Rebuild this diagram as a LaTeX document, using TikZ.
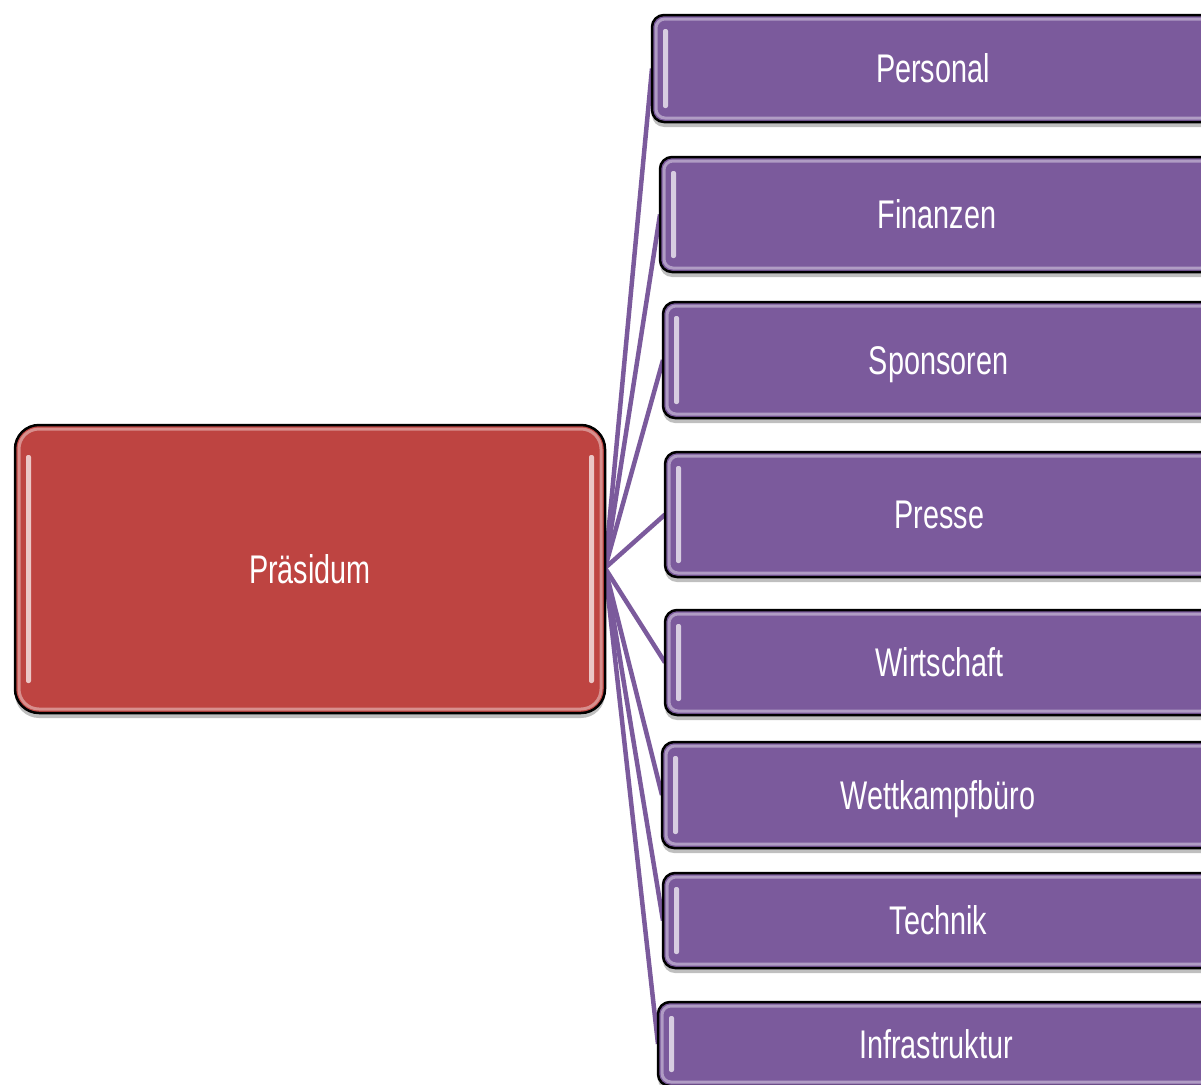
\documentclass[tikz,border=0pt]{standalone}
\usepackage{fontspec}
\setmainfont{Liberation Sans}
\usetikzlibrary{shadows,calc}
\definecolor{boxpurple}{HTML}{7B5A9C}
\definecolor{boxred}{HTML}{BE4441}
\newcommand\narrowtxt[1]{\scalebox{0.72}[1]{#1}}
\begin{document}
\begin{tikzpicture}[x=1pt,y=-1pt,
  basebox/.style={draw=black, line width=2.5pt, inner sep=0pt, outer sep=0pt,
    text=white, font=\fontsize{40}{48}\selectfont, text height=28.6pt, text depth=0pt,
    drop shadow={shadow xshift=0pt, shadow yshift=-5pt, opacity=0.45, fill=black!55}},
  unit/.style={basebox, fill=boxpurple, rounded corners=12pt},
  head/.style={basebox, fill=boxred, rounded corners=24pt},
  conn/.style={draw=boxpurple, line width=4.5pt},
  rimp/.style={draw=boxpurple!60!white, line width=3pt, rounded corners=9pt},
  rimr/.style={draw=boxred!60!white, line width=3pt, rounded corners=20pt},
  stripe/.style={fill=white, opacity=0.7, rounded corners=2pt}]
\useasboundingbox (0,0) rectangle (1201,1084);
\clip (0,0) rectangle (1201,1084);
\fill[white] (0,0) rectangle (1201,1084);
\coordinate (hub) at (605,568);
% connectors (drawn under the boxes, ending at each box's left side)
\foreach \cy/\lx in {68.5/652, 214.5/660, 360/663, 514.5/665, 662.5/665, 795/662, 920.5/663, 1044/658}{
  \draw[conn] (hub) -- (\lx,\cy);
}
% head box
\node[head, minimum width=590pt, minimum height=288pt] (pres) at (310,569) {\narrowtxt{Präsidum}};
\draw[rimr] ($(pres.north west)+(4,4)$) rectangle ($(pres.south east)+(-4,-4)$);
\fill[stripe] ($(pres.north west)+(11,30)$) rectangle ($(pres.south west)+(16,-30)$);
\fill[stripe] ($(pres.north east)+(-16,30)$) rectangle ($(pres.south east)+(-11,-30)$);
% unit boxes
\node[unit, minimum width=562pt, minimum height=107pt] (p1) at (933,68.5) {\narrowtxt{Personal}};
\node[unit, minimum width=554pt, minimum height=115pt] (p2) at (937,214.5) {\narrowtxt{Finanzen}};
\node[unit, minimum width=551pt, minimum height=116pt] (p3) at (938.5,360) {\narrowtxt{Sponsoren}};
\node[unit, minimum width=549pt, minimum height=125pt] (p4) at (939.5,514.5) {\narrowtxt{Presse}};
\node[unit, minimum width=549pt, minimum height=105pt] (p5) at (939.5,662.5) {\narrowtxt{Wirtschaft}};
\node[unit, minimum width=552pt, minimum height=106pt] (p6) at (938,795) {\narrowtxt{Wettkampfbüro}};
\node[unit, minimum width=551pt, minimum height=95pt] (p7) at (938.5,920.5) {\narrowtxt{Technik}};
\node[unit, minimum width=556pt, minimum height=84pt] (p8) at (936,1044) {\narrowtxt{Infrastruktur}};
\foreach \n in {p1,p2,p3,p4,p5,p6,p7,p8}{
  \draw[rimp] ($(\n.north west)+(4,4)$) rectangle ($(\n.south east)+(-4,-4)$);
  \fill[stripe] ($(\n.north west)+(11,14)$) rectangle ($(\n.south west)+(16,-14)$);
}
\end{tikzpicture}
\end{document}
